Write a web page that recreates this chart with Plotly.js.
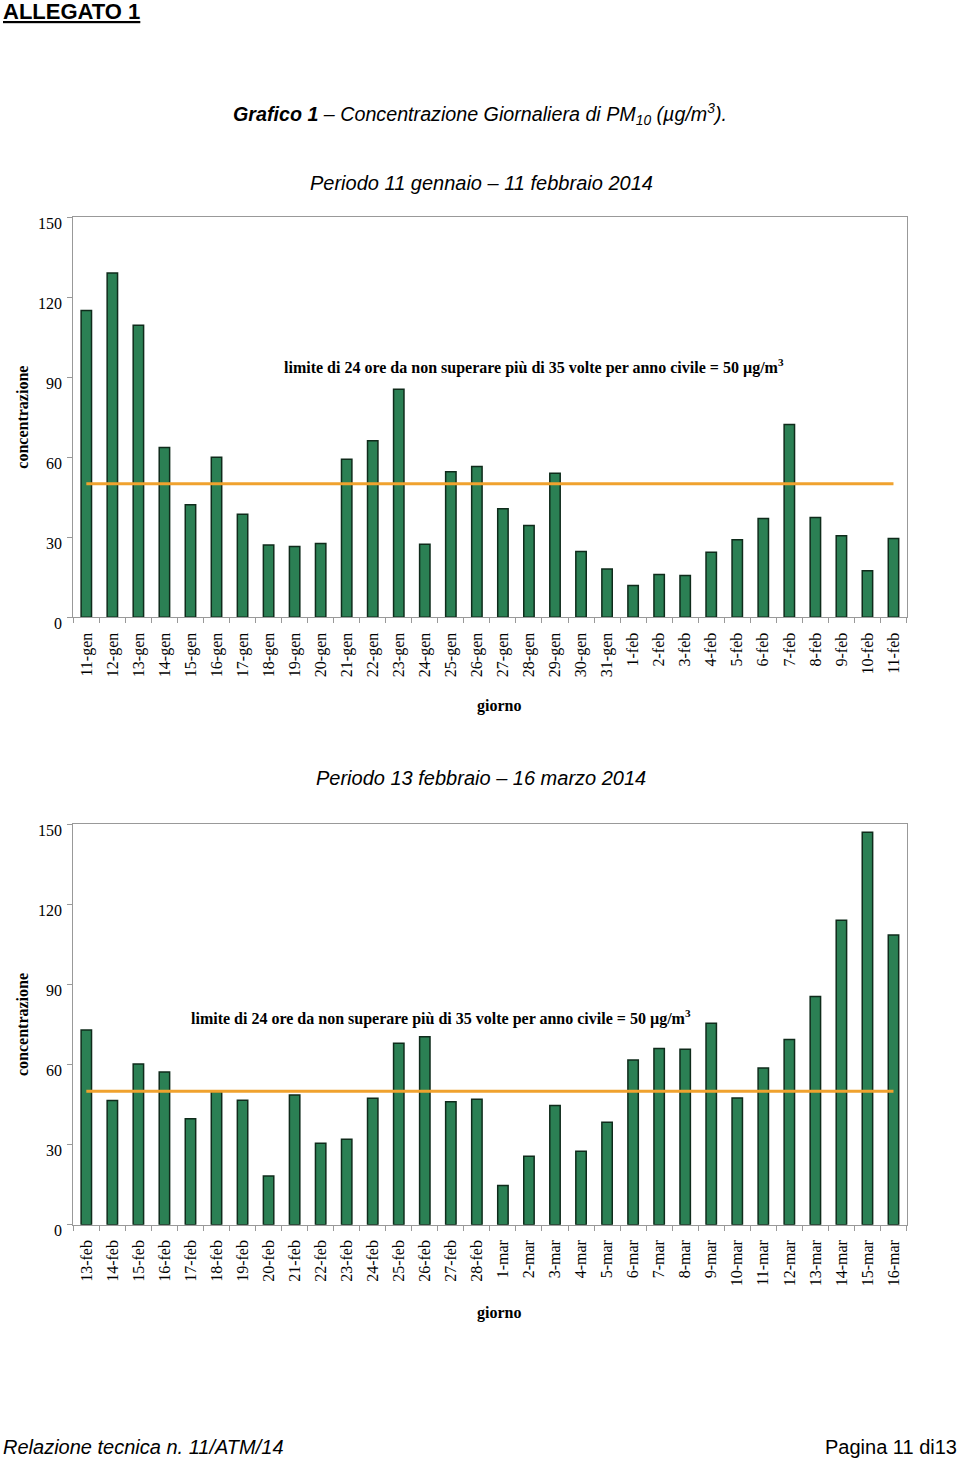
<!DOCTYPE html>
<html>
<head>
<meta charset="utf-8">
<script src="https://cdn.plot.ly/plotly-3.0.1.min.js"></script>
<style>html,body{margin:0;padding:0;background:#fff;}#chart{width:960px;height:1459px;}</style>
</head>
<body>
<div id="chart"></div>
<script>
// ---- data ----
const days1 = ['11-gen','12-gen','13-gen','14-gen','15-gen','16-gen','17-gen','18-gen','19-gen','20-gen',
  '21-gen','22-gen','23-gen','24-gen','25-gen','26-gen','27-gen','28-gen','29-gen','30-gen','31-gen',
  '1-feb','2-feb','3-feb','4-feb','5-feb','6-feb','7-feb','8-feb','9-feb','10-feb','11-feb'];
const pm10_1 = [115,129,109.4,63.6,42.2,60,38.6,27.1,26.5,27.7,
  59.2,66.2,85.5,27.4,54.5,56.5,40.7,34.4,54,24.7,18.1,
  11.9,16,15.7,24.4,29.1,37,72.2,37.4,30.6,17.4,29.5];
const days2 = ['13-feb','14-feb','15-feb','16-feb','17-feb','18-feb','19-feb','20-feb','21-feb','22-feb',
  '23-feb','24-feb','25-feb','26-feb','27-feb','28-feb',
  '1-mar','2-mar','3-mar','4-mar','5-mar','6-mar','7-mar','8-mar','9-mar','10-mar','11-mar','12-mar',
  '13-mar','14-mar','15-mar','16-mar'];
const pm10_2 = [72.9,46.5,60.2,57.2,39.7,49.9,46.6,18.2,48.6,30.5,
  32,47.4,68,70.4,46.1,47,
  14.7,25.6,44.7,27.5,38.4,61.7,66,65.7,75.5,47.5,58.7,69.4,
  85.5,114.1,147,108.5];
const limitValue = 50;
const yTicks = [0,30,60,90,120,150];

const limit1 = days1.map(() => limitValue);
const limit2 = days2.map(() => limitValue);

// ---- styles ----
const H = 1459, W = 960;
const py = px => 1 - px / H;
const pxX = px => px / W;
const barColor = '#2b8054';
const barLine = '#0f2b1b';
const limitColor = '#f0a22e';
const serif = 'Liberation Serif, Times New Roman, serif';
const sans = 'Liberation Sans, Arial, sans-serif';

function barTrace(x, y, xa, ya) {
  return {type:'bar', x:x, y:y, xaxis:xa, yaxis:ya,
    marker:{color:barColor, line:{color:barLine, width:1.5}}, hoverinfo:'x+y', showlegend:false};
}
function limitTrace(x, y, xa, ya) {
  return {type:'scatter', mode:'lines', x:x, y:y, xaxis:xa, yaxis:ya,
    line:{color:limitColor, width:3}, hoverinfo:'skip', showlegend:false};
}

const data = [
  barTrace(days1, pm10_1, 'x', 'y'),
  limitTrace(days1, limit1, 'x', 'y'),
  barTrace(days2, pm10_2, 'x2', 'y2'),
  limitTrace(days2, limit2, 'x2', 'y2')
];

function xAxis(domain, anchor) {
  return {domain:domain, anchor:anchor, type:'category', tickangle:-90,
    tickfont:{family:serif, size:16, color:'#000'}, ticklabelstandoff:8,
    ticks:'outside', tickson:'boundaries', ticklen:5, tickcolor:'#999',
    showline:true, linecolor:'#999', linewidth:1, mirror:true, showgrid:false};
}
function yAxis(domain, anchor) {
  return {domain:domain, anchor:anchor, range:[0,150], tickvals:yTicks,
    tickfont:{family:serif, size:16, color:'#000'}, ticklabelshift:6, ticklabelstandoff:2,
    ticks:'outside', ticklen:5, tickcolor:'#999',
    showline:true, linecolor:'#999', linewidth:1, mirror:true, showgrid:false, zeroline:false,
    title:{text:'<b>concentrazione</b>', font:{family:serif, size:16, color:'#000'}, standoff:5}};
}

const xd = [pxX(73.3), pxX(906.5)];
const limitText = '<b>limite di 24 ore da non superare più di 35 volte per anno civile = 50 µg/m<sup>3</sup></b>';
const layout = {
  width:W, height:H, margin:{l:0,r:0,t:0,b:0}, paper_bgcolor:'#fff', plot_bgcolor:'#fff',
  bargap:0.6, showlegend:false,
  xaxis: xAxis(xd, 'y'),
  yaxis: yAxis([py(617.3), py(217)], 'x'),
  xaxis2: xAxis(xd, 'y2'),
  yaxis2: yAxis([py(1224.7), py(824.3)], 'x2'),
  annotations: [
    {text:'<b><u>ALLEGATO 1</u></b>', xref:'paper', yref:'paper', x:pxX(1), y:py(12), xanchor:'left', yanchor:'middle',
      showarrow:false, font:{family:sans, size:22, color:'#000'}},
    {text:'<b><i>Grafico 1</i></b><i> – Concentrazione Giornaliera di PM<sub>10</sub> (µg/m<sup>3</sup>).</i>',
      xref:'paper', yref:'paper', x:pxX(480), y:py(114), xanchor:'center', yanchor:'middle',
      showarrow:false, font:{family:sans, size:19.7, color:'#000'}},
    {text:'<i>Periodo 11 gennaio – 11 febbraio 2014</i>', xref:'paper', yref:'paper', x:pxX(481), y:py(183),
      xanchor:'center', yanchor:'middle', showarrow:false, font:{family:sans, size:20, color:'#000'}},
    {text:'<i>Periodo 13 febbraio – 16 marzo 2014</i>', xref:'paper', yref:'paper', x:pxX(481), y:py(778),
      xanchor:'center', yanchor:'middle', showarrow:false, font:{family:sans, size:20, color:'#000'}},
    {text:limitText, xref:'paper', yref:'paper', x:pxX(282), y:py(366), xanchor:'left', yanchor:'middle',
      showarrow:false, font:{family:serif, size:16, color:'#000'}},
    {text:limitText, xref:'paper', yref:'paper', x:pxX(189), y:py(1017), xanchor:'left', yanchor:'middle',
      showarrow:false, font:{family:serif, size:16, color:'#000'}},
    {text:'<b>giorno</b>', xref:'paper', yref:'paper', x:pxX(499), y:py(706), xanchor:'center', yanchor:'middle',
      showarrow:false, font:{family:serif, size:16, color:'#000'}},
    {text:'<b>giorno</b>', xref:'paper', yref:'paper', x:pxX(499), y:py(1313), xanchor:'center', yanchor:'middle',
      showarrow:false, font:{family:serif, size:16, color:'#000'}},
    {text:'<i>Relazione tecnica n. 11/ATM/14</i>', xref:'paper', yref:'paper', x:pxX(1), y:py(1447),
      xanchor:'left', yanchor:'middle', showarrow:false, font:{family:sans, size:20, color:'#000'}},
    {text:'Pagina 11 di13', xref:'paper', yref:'paper', x:pxX(959), y:py(1447),
      xanchor:'right', yanchor:'middle', showarrow:false, font:{family:sans, size:20, color:'#000'}}
  ]
};

Plotly.newPlot('chart', data, layout, {displayModeBar:false, staticPlot:true});
</script>
</body>
</html>
